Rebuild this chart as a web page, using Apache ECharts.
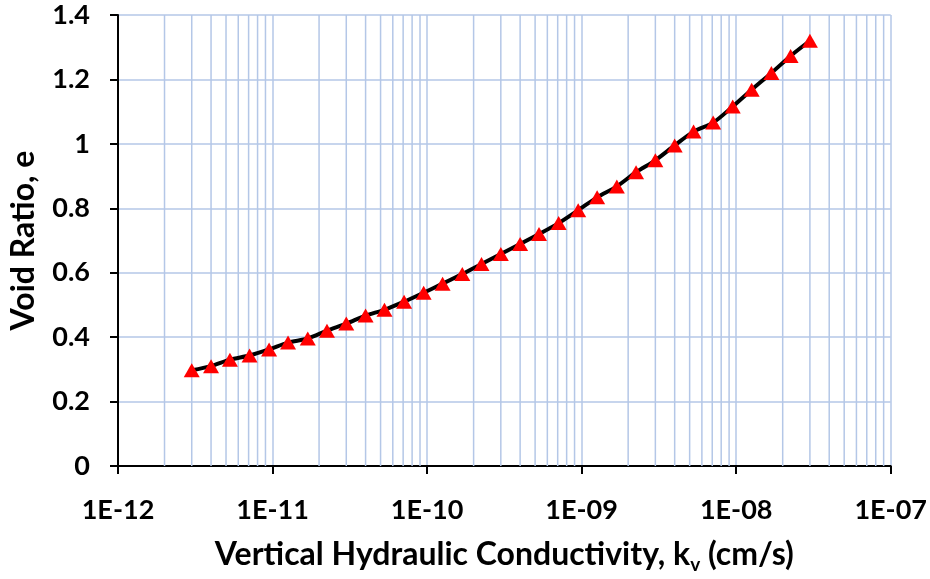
<!DOCTYPE html>
<html>
<head>
<meta charset="utf-8">
<script src="https://cdn.jsdelivr.net/npm/echarts@6/dist/echarts.min.js"></script>
<style>
  html, body { margin: 0; padding: 0; background: #fff; }
  #chart { width: 930px; height: 579px; }
</style>
</head>
<body>
<div id="chart"></div>
<script>
// Hydraulic conductivity (cm/s) and the corresponding void ratio
const kValues = [
  3.0e-12, 4.0e-12, 5.3e-12, 7.1e-12, 9.5e-12,
  1.26e-11, 1.69e-11, 2.25e-11, 3.0e-11, 4.0e-11, 5.3e-11, 7.1e-11, 9.5e-11,
  1.26e-10, 1.69e-10, 2.25e-10, 3.0e-10, 4.0e-10, 5.3e-10, 7.1e-10, 9.5e-10,
  1.26e-9, 1.69e-9, 2.25e-9, 3.0e-9, 4.0e-9, 5.3e-9, 7.1e-9, 9.5e-9,
  1.26e-8, 1.69e-8, 2.25e-8, 3.0e-8
];
const voidRatio = [
  0.297, 0.31, 0.33, 0.343, 0.362,
  0.383, 0.396, 0.42, 0.442, 0.467, 0.485, 0.51, 0.538,
  0.566, 0.596, 0.627, 0.658, 0.689, 0.72, 0.754, 0.794,
  0.834, 0.868, 0.912, 0.949, 0.995, 1.038, 1.066, 1.116,
  1.168, 1.22, 1.273, 1.32
];

// Axis ranges and tick labels
const xDecades = [-12, -11, -10, -9, -8, -7];
const xTickLabels = ['1E-12', '1E-11', '1E-10', '1E-09', '1E-08', '1E-07'];
const yMin = 0, yMax = 1.4, yStep = 0.2;
const minorMultipliers = [2, 3, 4, 5, 6, 7, 8, 9];

const gridBlue = '#B4C7E7';
const fontFamily = 'Lato, "Open Sans", sans-serif';

// Minor vertical grid lines at 2..9 within each decade
const minorValues = [];
xDecades.slice(0, -1).forEach(function (d) {
  minorMultipliers.forEach(function (m) {
    minorValues.push(m * Math.pow(10, d));
  });
});

const points = kValues.map(function (k, i) { return [k, voidRatio[i]]; });

const chart = echarts.init(document.getElementById('chart'), null, { renderer: 'canvas' });
chart.setOption({
  animation: false,
  backgroundColor: '#ffffff',
  grid: { left: 117, right: 38, top: 15, bottom: 110, containLabel: false },
  xAxis: {
    type: 'log',
    logBase: 10,
    min: Math.pow(10, xDecades[0]),
    max: Math.pow(10, xDecades[xDecades.length - 1]),
    name: '{a|Vertical Hydraulic Conductivity, k}{s|v}{a| (cm/s)}',
    nameLocation: 'middle',
    nameGap: 70,
    nameTextStyle: {
      rich: {
        a: { fontFamily: fontFamily, fontWeight: 'bold', fontSize: 32, color: '#000', lineHeight: 38, verticalAlign: 'middle' },
        s: { fontFamily: fontFamily, fontWeight: 'bold', fontSize: 19, color: '#000', lineHeight: 38, verticalAlign: 'bottom', padding: [18, 0, 0, 0] }
      }
    },
    axisLine: { show: true, onZero: false, lineStyle: { color: '#000', width: 2 } },
    axisTick: { show: true, inside: false, length: 8, lineStyle: { color: '#000', width: 2 } },
    axisLabel: {
      margin: 31,
      fontFamily: fontFamily,
      fontWeight: 'bold',
      fontSize: 27,
      color: '#000',
      formatter: function (v) {
        const e = Math.round(Math.log10(v));
        const idx = xDecades.indexOf(e);
        return idx >= 0 ? xTickLabels[idx] : '';
      }
    },
    splitLine: { show: true, lineStyle: { color: gridBlue, width: 1.5 } },
    minorTick: { show: false },
    minorSplitLine: { show: false }
  },
  yAxis: {
    type: 'value',
    min: yMin,
    max: yMax,
    interval: yStep,
    name: 'Void Ratio, e',
    nameLocation: 'middle',
    nameGap: 78,
    nameTextStyle: { fontFamily: fontFamily, fontWeight: 'bold', fontSize: 32, color: '#000' },
    axisLine: { show: true, onZero: false, lineStyle: { color: '#000', width: 2 } },
    axisTick: { show: true, inside: false, length: 8, lineStyle: { color: '#000', width: 2 } },
    axisLabel: {
      margin: 28,
      fontFamily: fontFamily,
      fontWeight: 'bold',
      fontSize: 27,
      color: '#000'
    },
    splitLine: { show: true, lineStyle: { color: gridBlue, width: 1.5 } }
  },
  series: [
    {
      // minor vertical grid lines, placed through the log axis scale
      type: 'custom',
      silent: true,
      z: 1,
      data: minorValues.map(function (v) { return [v, yMax]; }),
      encode: { x: 0, y: 1 },
      renderItem: function (params, api) {
        const v = api.value(0);
        const top = api.coord([v, yMax]);
        const bottom = api.coord([v, yMin]);
        return {
          type: 'line',
          shape: { x1: top[0], y1: top[1], x2: bottom[0], y2: bottom[1] },
          style: { stroke: gridBlue, lineWidth: 1.5 }
        };
      }
    },
    {
      type: 'line',
      data: points,
      z: 3,
      smooth: 0.3,
      lineStyle: { color: '#000', width: 4 },
      symbol: 'triangle',
      symbolSize: [16, 14],
      itemStyle: { color: '#FF0000', borderWidth: 0 }
    }
  ]
});
</script>
</body>
</html>
